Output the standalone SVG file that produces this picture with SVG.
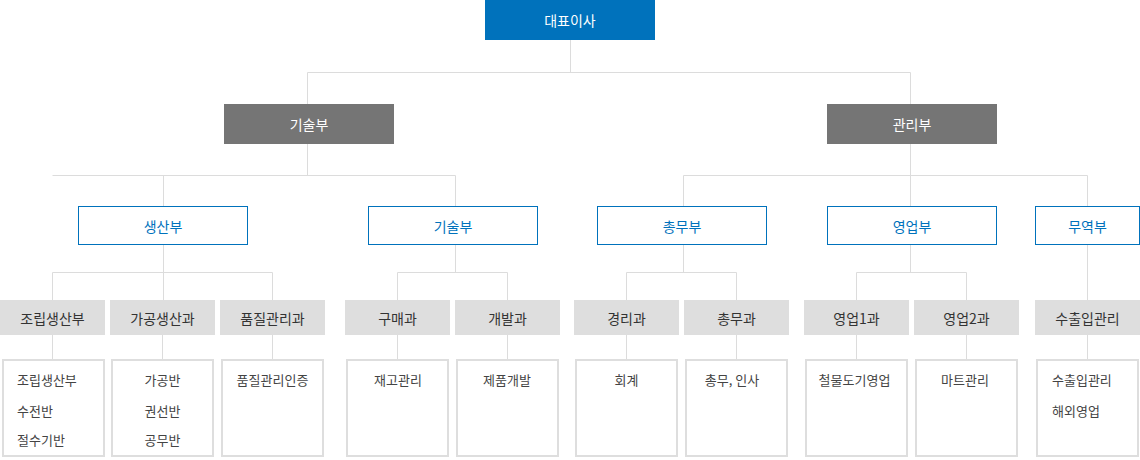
<svg xmlns="http://www.w3.org/2000/svg" width="1140" height="460" viewBox="0 0 1140 460">
<style>
text{font-family:"Noto Sans CJK KR","Noto Sans",sans-serif;dominant-baseline:central}
.l{fill:none;stroke:#dcdcdc;stroke-width:1}
.top{fill:#0072bc}
.g1{fill:#757575}
.wt{fill:#fff;font-size:14px;text-anchor:middle}
.b2{fill:#fff;stroke:#0072bc;stroke-width:1}
.bt{fill:#0072bc;font-size:14px;text-anchor:middle}
.g3{fill:#dedede}
.t3{fill:#333;font-size:14px;text-anchor:middle}
.cb{fill:#fff;stroke:#dedede;stroke-width:2}
.ct{fill:#444;font-size:13px}
.m{text-anchor:middle}
</style>
<g id="connectors">
<path class="l" d="M570.5 40V72.5M307.5 72.5H910.5M307.5 72.5V104M910.5 72.5V104"/>
<path class="l" d="M307.5 144V175.5M52.5 175.5H455.5M163.5 175.5V206M455.5 175.5V206"/>
<path class="l" d="M910.5 144V206M683.5 175.5H1087.5M683.5 175.5V206M1087.5 175.5V206"/>
<path class="l" d="M163.5 245V300M52.5 272.5H272.5M52.5 272.5V300M272.5 272.5V300"/>
<path class="l" d="M455.5 245V272.5M397.5 272.5H507.5M397.5 272.5V300M507.5 272.5V300"/>
<path class="l" d="M683.5 245V272.5M626.5 272.5H736.5M626.5 272.5V300M736.5 272.5V300"/>
<path class="l" d="M910.5 245V272.5M856.5 272.5H966.5M856.5 272.5V300M966.5 272.5V300"/>
<path class="l" d="M1087.5 245V300"/>
<path class="l" d="M52.5 335V359M162.5 335V359M272.5 335V359M397.5 335V359M507.5 335V359M626.5 335V359M736.5 335V359M856.5 335V359M966.5 335V359M1087.5 335V359"/>
</g>
<g id="ceo"><rect class="top" x="485" y="0" width="170" height="40"/><text class="wt" x="570" y="20">대표이사</text></g>
<g id="tech-div"><rect class="g1" x="224" y="104" width="170" height="40"/><text class="wt" x="309" y="124">기술부</text></g>
<g id="admin-div"><rect class="g1" x="827" y="104" width="170" height="40"/><text class="wt" x="912" y="124">관리부</text></g>
<g id="production"><rect class="b2" x="78.5" y="206.5" width="169" height="38"/><text class="bt" x="163" y="225.5">생산부</text></g>
<g id="tech"><rect class="b2" x="368.5" y="206.5" width="169" height="38"/><text class="bt" x="453" y="225.5">기술부</text></g>
<g id="general"><rect class="b2" x="597.5" y="206.5" width="169" height="38"/><text class="bt" x="682" y="225.5">총무부</text></g>
<g id="sales"><rect class="b2" x="827.5" y="206.5" width="169" height="38"/><text class="bt" x="912" y="225.5">영업부</text></g>
<g id="trade"><rect class="b2" x="1035.5" y="206.5" width="104" height="38"/><text class="bt" x="1087.5" y="225.5">무역부</text></g>
<g id="assembly">
<rect class="g3" x="0" y="300" width="105" height="35"/><text class="t3" x="52.5" y="317.5">조립생산부</text>
<rect class="cb" x="3" y="360" width="101" height="96"/>
<text class="ct" x="17" y="379.5">조립생산부</text><text class="ct" x="17" y="410">수전반</text><text class="ct" x="17" y="439.5">절수기반</text>
</g>
<g id="processing">
<rect class="g3" x="110" y="300" width="105" height="35"/><text class="t3" x="162.5" y="317.5">가공생산과</text>
<rect class="cb" x="112" y="360" width="101" height="96"/>
<text class="ct m" x="162.5" y="379.5">가공반</text><text class="ct m" x="162.5" y="410">권선반</text><text class="ct m" x="162.5" y="439.5">공무반</text>
</g>
<g id="quality">
<rect class="g3" x="220" y="300" width="105" height="35"/><text class="t3" x="272.5" y="317.5">품질관리과</text>
<rect class="cb" x="222" y="360" width="101" height="96"/>
<text class="ct m" x="272.5" y="379.5">품질관리인증</text>
</g>
<g id="purchase">
<rect class="g3" x="345" y="300" width="105" height="35"/><text class="t3" x="397.5" y="317.5">구매과</text>
<rect class="cb" x="347" y="360" width="101" height="96"/>
<text class="ct m" x="398" y="379.5">재고관리</text>
</g>
<g id="development">
<rect class="g3" x="455" y="300" width="105" height="35"/><text class="t3" x="507.5" y="317.5">개발과</text>
<rect class="cb" x="457" y="360" width="101" height="96"/>
<text class="ct m" x="507" y="379.5">제품개발</text>
</g>
<g id="accounting">
<rect class="g3" x="574" y="300" width="105" height="35"/><text class="t3" x="626.5" y="317.5">경리과</text>
<rect class="cb" x="576" y="360" width="101" height="96"/>
<text class="ct m" x="626.5" y="379.5">회계</text>
</g>
<g id="general-affairs">
<rect class="g3" x="684" y="300" width="105" height="35"/><text class="t3" x="736.5" y="317.5">총무과</text>
<rect class="cb" x="686" y="360" width="101" height="96"/>
<text class="ct m" x="732" y="379.5">총무, 인사</text>
</g>
<g id="sales1">
<rect class="g3" x="804" y="300" width="105" height="35"/><text class="t3" x="856.5" y="317.5">영업1과</text>
<rect class="cb" x="806" y="360" width="101" height="96"/>
<text class="ct m" x="854.5" y="379.5">철물도기영업</text>
</g>
<g id="sales2">
<rect class="g3" x="914" y="300" width="105" height="35"/><text class="t3" x="966.5" y="317.5">영업2과</text>
<rect class="cb" x="916" y="360" width="101" height="96"/>
<text class="ct m" x="965" y="379.5">마트관리</text>
</g>
<g id="import-export">
<rect class="g3" x="1035" y="300" width="105" height="35"/><text class="t3" x="1087.5" y="317.5">수출입관리</text>
<rect class="cb" x="1037" y="360" width="101" height="96"/>
<text class="ct" x="1052" y="379.5">수출입관리</text><text class="ct" x="1052" y="410">해외영업</text>
</g>
</svg>
